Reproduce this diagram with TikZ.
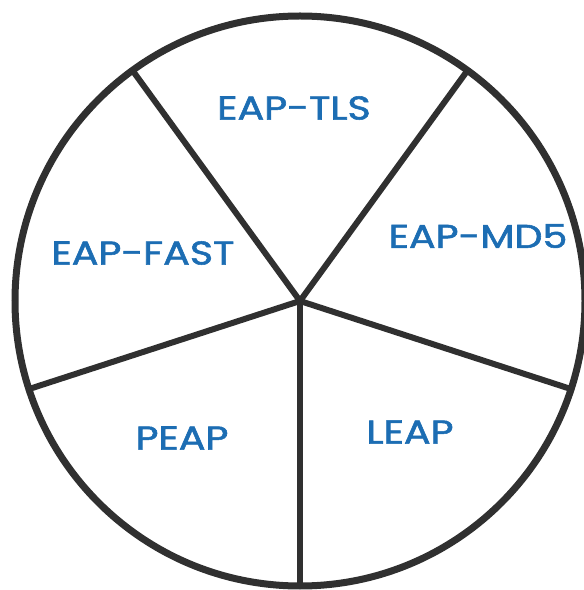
\documentclass[tikz,border=0pt]{standalone}
\usepackage{fontspec}
\usepackage{xcolor}
\usepackage{tikz}
\usetikzlibrary{calc}
\newfontfamily\labelfont[FakeBold=1.6]{Poppins}
\definecolor{Rim}{HTML}{303030}
\definecolor{LblBlue}{HTML}{1C6DB3}

\begin{document}
\begin{tikzpicture}[x=1pt,y=1pt,
    rim/.style={draw=Rim,line width=7pt},
    spoke/.style={draw=Rim,line width=6pt,line cap=round,line join=round},
    lbl/.style={text=LblBlue,font=\labelfont\fontsize{33}{36}\selectfont,
      inner sep=0pt,xscale=1.2,transform shape}]
  \useasboundingbox (0,0) rectangle (584,590);
  \coordinate (hub) at (300,289);
  \draw[rim] (hub) circle[radius=285];
  % pentagon spokes
  \coordinate (pTop) at ($(hub)+(126:285)$);
  \coordinate (pRight) at ($(hub)+(54:285)$);
  \coordinate (pLeft) at ($(hub)+(198:285)$);
  \coordinate (pLow) at ($(hub)+(342:285)$);
  \coordinate (pBot) at ($(hub)+(270:285)$);
  \draw[spoke] (hub) -- (pTop);
  \draw[spoke] (hub) -- (pRight);
  \draw[spoke] (hub) -- (pLeft);
  \draw[spoke] (hub) -- (pLow);
  \draw[spoke] (hub) -- (pBot);
  % segment labels
  \node[lbl] (tls) at (294,482) {EAP-TLS};
  \node[lbl] (md5) at (478,354) {EAP-MD5};
  \node[lbl] (fast) at (143,337) {EAP-FAST};
  \node[lbl] (peap) at (182,152) {PEAP};
  \node[lbl] (leap) at (410,158) {LEAP};
\end{tikzpicture}
\end{document}
